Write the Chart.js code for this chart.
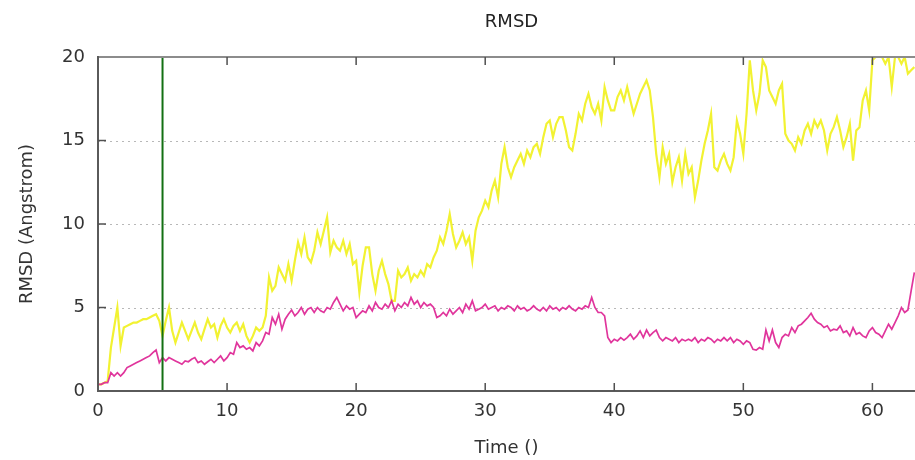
<!DOCTYPE html>
<html>
<head>
<meta charset="utf-8">
<script src="https://cdn.jsdelivr.net/npm/chart.js@4/dist/chart.umd.min.js"></script>
<style>
  html, body { margin: 0; padding: 0; background: #ffffff; overflow: hidden; }
  #wrap { width: 915px; height: 460px; position: relative; }
</style>
</head>
<body>
<div id="wrap"><canvas id="c" width="915" height="460"></canvas></div>
<script>
// ---- data ----
const chartTitle = "RMSD";
const xTitle = "Time ()";
const yTitle = "RMSD (Angstrom)";
const timeStep = 0.25;          // sampling interval of both series (time units)
const xTickLabels = [0, 10, 20, 30, 40, 50, 60];
const yTickLabels = [0, 5, 10, 15, 20];
const yGridLines = [5, 10, 15];
const markerTime = [5, 5];
const markerValue = [0, 20];

const rmsdYellow = [
  0.4, 0.4, 0.5, 0.6,
  2.6, 3.8, 5.0, 2.7,
  3.8, 3.9, 4.0, 4.1,
  4.1, 4.2, 4.3, 4.3,
  4.4, 4.5, 4.6, 4.2,
  3.3, 4.2, 5.0, 3.6,
  2.9, 3.5, 4.1, 3.6,
  3.1, 3.6, 4.1, 3.5,
  3.1, 3.7, 4.3, 3.8,
  4.0, 3.2, 3.9, 4.3,
  3.8, 3.5, 3.9, 4.1,
  3.6, 4.0, 3.3, 2.9,
  3.3, 3.8, 3.6, 3.8,
  4.5, 6.8, 6.0, 6.3,
  7.4, 7.0, 6.6, 7.6,
  6.6, 7.8, 8.9, 8.2,
  9.2, 8.0, 7.7, 8.4,
  9.5, 8.8, 9.6, 10.4,
  8.3, 9.0, 8.6, 8.4,
  9.0, 8.2, 8.8, 7.6,
  7.8, 5.9, 7.5, 8.6,
  8.6, 7.0, 6.0, 7.2,
  7.8, 7.0, 6.4, 5.4,
  5.4, 7.2, 6.8, 7.0,
  7.4, 6.6, 7.0, 6.8,
  7.2, 6.9, 7.6, 7.4,
  8.0, 8.4, 9.2, 8.8,
  9.6, 10.6, 9.4, 8.6,
  9.0, 9.5, 8.8, 9.2,
  7.8, 9.6, 10.4, 10.8,
  11.4, 11.0, 12.0, 12.6,
  11.6, 13.6, 14.6, 13.4,
  12.8, 13.4, 13.8, 14.2,
  13.6, 14.4, 14.0, 14.6,
  14.8, 14.2, 15.2, 16.0,
  16.2, 15.2, 16.0, 16.4,
  16.4, 15.6, 14.6, 14.4,
  15.4, 16.6, 16.2, 17.2,
  17.8, 17.0, 16.6, 17.2,
  16.2, 18.2, 17.4, 16.8,
  16.8, 17.6, 18.0, 17.4,
  18.2, 17.4, 16.6, 17.2,
  17.8, 18.2, 18.6, 18.0,
  16.4, 14.2, 12.8, 14.6,
  13.6, 14.2, 12.5, 13.4,
  14.0, 12.6, 14.2, 13.0,
  13.4, 11.6, 12.6, 13.8,
  14.8, 15.6, 16.6, 13.4,
  13.2, 13.8, 14.2, 13.6,
  13.2, 14.0, 16.2, 15.4,
  14.2, 16.6, 19.8, 18.0,
  16.8, 17.8, 19.8, 19.4,
  18.0, 17.6, 17.2, 18.0,
  18.4, 15.4, 15.0, 14.8,
  14.4, 15.2, 14.8, 15.6,
  16.0, 15.4, 16.2, 15.8,
  16.2, 15.6, 14.4, 15.4,
  15.8, 16.4, 15.6, 14.6,
  15.2, 16.0, 13.8, 15.6,
  15.8, 17.4, 18.0, 16.8,
  19.8, 20.0, 20.0, 20.0,
  19.6, 20.0, 18.2, 20.0,
  20.0, 19.6, 20.0, 19.0,
  19.2, 19.4
];

const rmsdMagenta = [
  0.4, 0.4, 0.5, 0.5,
  1.1, 0.9, 1.1, 0.9,
  1.1, 1.4, 1.5, 1.6,
  1.7, 1.8, 1.9, 2.0,
  2.1, 2.3, 2.45, 1.7,
  2.0, 1.8, 2.0, 1.9,
  1.8, 1.7, 1.6, 1.8,
  1.75, 1.9, 2.0, 1.7,
  1.8, 1.6, 1.75, 1.9,
  1.7, 1.9, 2.1, 1.8,
  2.0, 2.3, 2.2, 2.9,
  2.6, 2.7, 2.5, 2.6,
  2.4, 2.9, 2.7, 3.0,
  3.5, 3.4, 4.4, 4.0,
  4.6, 3.7, 4.3, 4.6,
  4.85, 4.5, 4.7, 5.0,
  4.6, 4.9, 5.0, 4.7,
  5.0, 4.8, 4.7, 5.0,
  4.9, 5.3, 5.6, 5.2,
  4.8, 5.1, 4.9, 5.0,
  4.4, 4.6, 4.8, 4.7,
  5.1, 4.8, 5.3, 5.0,
  4.9, 5.2, 5.0, 5.4,
  4.8, 5.2, 5.0, 5.3,
  5.1, 5.6, 5.2, 5.4,
  5.0, 5.3, 5.1, 5.2,
  5.0, 4.4, 4.5, 4.7,
  4.5, 4.9, 4.6, 4.8,
  5.0, 4.7, 5.2, 4.9,
  5.4, 4.8, 4.9, 5.0,
  5.2, 4.9, 5.0, 5.1,
  4.8, 5.0, 4.9, 5.1,
  5.0, 4.8, 5.1, 4.9,
  5.0, 4.8, 4.9, 5.1,
  4.9, 4.8, 5.0, 4.8,
  5.1, 4.9, 5.0, 4.8,
  5.0, 4.9, 5.1, 4.9,
  4.8, 5.0, 4.9, 5.1,
  5.0, 5.6, 5.0, 4.7,
  4.7, 4.5, 3.2, 2.9,
  3.1, 3.0, 3.2, 3.05,
  3.2, 3.4, 3.1, 3.3,
  3.6, 3.2, 3.65, 3.3,
  3.5, 3.65, 3.2, 3.0,
  3.2, 3.1, 3.0, 3.2,
  2.9, 3.1, 3.0, 3.1,
  3.0, 3.2, 2.9, 3.1,
  3.0, 3.2, 3.1, 2.9,
  3.1, 3.0, 3.2, 3.0,
  3.2, 2.9, 3.1, 3.0,
  2.8, 3.0, 2.9, 2.5,
  2.45, 2.6, 2.5, 3.65,
  3.0, 3.65, 2.9, 2.6,
  3.2, 3.4, 3.3, 3.8,
  3.5, 3.9, 4.0, 4.2,
  4.4, 4.65, 4.3, 4.1,
  4.0, 3.8, 3.9, 3.6,
  3.7, 3.65, 3.9, 3.5,
  3.6, 3.3, 3.8, 3.4,
  3.5, 3.3, 3.2, 3.6,
  3.8, 3.5, 3.4, 3.2,
  3.6, 4.0, 3.7, 4.1,
  4.5, 5.0, 4.7, 4.85,
  6.0, 7.1
];

// ---- build points from the arrays ----
const toPoints = (vals) => vals.map((v, i) => ({ x: i * timeStep, y: v }));
const markerPoints = markerTime.map((t, i) => ({ x: t, y: markerValue[i] }));

const FONT = '"DejaVu Sans", "Liberation Sans", sans-serif';
const TEXT = '#333333';

const framePlugin = {
  id: 'frame',
  beforeDatasetsDraw(chart) {
    const { ctx, chartArea: a, scales: { y } } = chart;
    ctx.save();
    ctx.strokeStyle = '#b8b8b8';
    ctx.lineWidth = 1;
    ctx.setLineDash([2, 4]);
    yGridLines.forEach(v => {
      const py = Math.round(y.getPixelForValue(v)) + 0.5;
      ctx.beginPath();
      ctx.moveTo(a.left, py);
      ctx.lineTo(a.right, py);
      ctx.stroke();
    });
    ctx.restore();
  },
  afterDatasetsDraw(chart) {
    const { ctx, chartArea: a, scales: { x, y } } = chart;
    ctx.save();
    ctx.setLineDash([]);
    ctx.strokeStyle = '#8c8c8c';
    ctx.lineWidth = 2;
    ctx.beginPath();
    ctx.moveTo(a.left, a.top);
    ctx.lineTo(a.right, a.top);
    ctx.stroke();
    ctx.strokeStyle = '#5a5a5a';
    ctx.beginPath();
    ctx.moveTo(a.left, a.top - 1);
    ctx.lineTo(a.left, a.bottom);
    ctx.lineTo(a.right, a.bottom);
    ctx.stroke();
    ctx.strokeStyle = '#505050';
    ctx.lineWidth = 1.5;
    const tl = 8;
    yTickLabels.forEach(v => {
      const py = y.getPixelForValue(v);
      if (py <= a.top + 1 || py >= a.bottom - 1) return;
      ctx.beginPath();
      ctx.moveTo(a.left, py);
      ctx.lineTo(a.left + tl, py);
      ctx.stroke();
    });
    xTickLabels.forEach(v => {
      const px = x.getPixelForValue(v);
      if (px <= a.left + 1 || px >= a.right - 1) return;
      ctx.beginPath();
      ctx.moveTo(px, a.bottom);
      ctx.lineTo(px, a.bottom - tl);
      ctx.moveTo(px, a.top);
      ctx.lineTo(px, a.top + tl);
      ctx.stroke();
    });
    ctx.restore();
  },
  afterDraw(chart) {
    const { ctx, chartArea: a } = chart;
    ctx.save();
    ctx.fillStyle = '#222222';
    ctx.font = '18px ' + FONT;
    ctx.textAlign = 'center';
    ctx.textBaseline = 'middle';
    ctx.fillText(chartTitle, (a.left + a.right) / 2 + 5, 22);
    ctx.restore();
  }
};

new Chart(document.getElementById('c'), {
  type: 'line',
  data: {
    datasets: [
      {
        label: 'marker',
        data: markerPoints,
        borderColor: '#137013',
        borderWidth: 2,
        pointRadius: 0,
        order: 0
      },
      {
        label: 'RMSD 2',
        data: toPoints(rmsdMagenta),
        borderColor: '#e0359c',
        borderWidth: 1.7,
        pointRadius: 0,
        tension: 0,
        order: 1
      },
      {
        label: 'RMSD 1',
        data: toPoints(rmsdYellow),
        borderColor: '#f2f232',
        borderWidth: 2.2,
        pointRadius: 0,
        tension: 0,
        order: 2
      }
    ]
  },
  options: {
    responsive: false,
    animation: false,
    events: [],
    layout: { padding: { top: 57, right: 0, bottom: 0, left: 0 } },
    plugins: {
      legend: { display: false },
      tooltip: { enabled: false },
      title: { display: false }
    },
    scales: {
      x: {
        type: 'linear',
        min: 0,
        max: 63.3,
        afterBuildTicks: (s) => { s.ticks = xTickLabels.map(v => ({ value: v })); },
        afterFit: (s) => { s.height = 69; },
        grid: { display: false, drawTicks: false },
        border: { display: false },
        ticks: {
          padding: 10,
          color: TEXT,
          font: { family: FONT, size: 18 },
          maxRotation: 0,
          autoSkip: false
        },
        title: {
          display: true,
          text: xTitle,
          color: TEXT,
          font: { family: FONT, size: 18 },
          padding: { top: 0, bottom: 1 }
        }
      },
      y: {
        type: 'linear',
        min: 0,
        max: 20,
        afterBuildTicks: (s) => { s.ticks = yTickLabels.map(v => ({ value: v })); },
        afterFit: (s) => { s.width = 98; },
        grid: { display: false, drawTicks: false },
        border: { display: false },
        ticks: {
          padding: 13,
          color: TEXT,
          font: { family: FONT, size: 18 }
        },
        title: {
          display: true,
          text: yTitle,
          color: TEXT,
          font: { family: FONT, size: 18 },
          padding: { top: 17, bottom: 0 }
        }
      }
    }
  },
  plugins: [framePlugin]
});
</script>
</body>
</html>
